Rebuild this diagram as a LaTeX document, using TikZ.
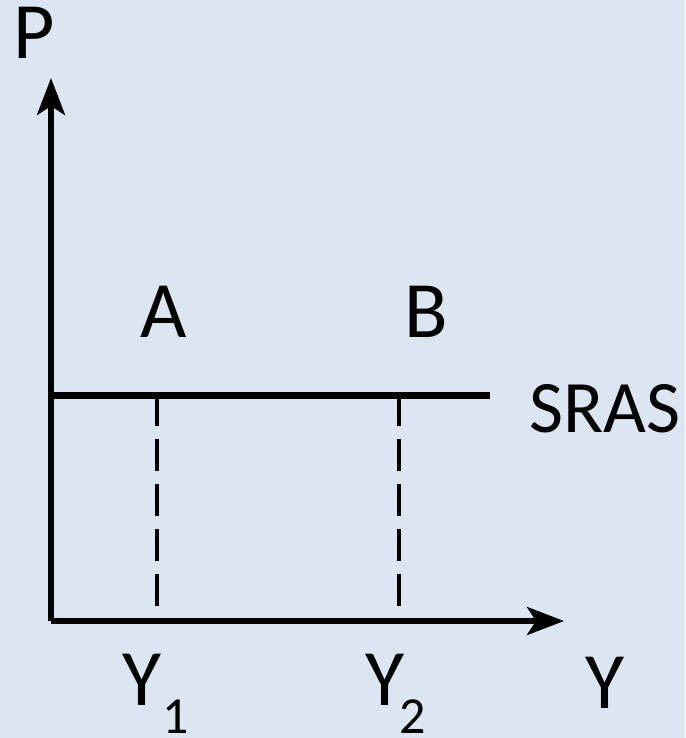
\documentclass[tikz,border=0pt]{standalone}
\usepackage{fontspec}
\setmainfont{Carlito}
\usetikzlibrary{arrows.meta}
\definecolor{bgblue}{RGB}{220,230,242}
\tikzset{
  axis/.style={line width=5.5pt, line join=miter, -{Stealth[length=37pt,width=28pt,inset=9pt]}},
  sras/.style={line width=7pt},
  guide/.style={line width=3.5pt, dash pattern=on 32pt off 13pt},
  big/.style={inner sep=0pt, font=\fontsize{80}{96}\selectfont},
  mid/.style={inner sep=0pt, font=\fontsize{74}{88}\selectfont},
  sub/.style={inner sep=0pt, font=\fontsize{52}{62}\selectfont}
}
\begin{document}
\begin{tikzpicture}[x=1pt,y=-1pt]
\useasboundingbox (0,0) rectangle (685,738);
\fill[bgblue] (0,0) rectangle (685,738);
\coordinate (O) at (51,621);
\coordinate (Ptip) at (51,78);
\coordinate (Ytip) at (564,621);
\coordinate (Sl) at (51,395);
\coordinate (Sr) at (490,395);
\coordinate (A1) at (157,394);
\coordinate (A0) at (157,621);
\coordinate (B1) at (399,394);
\coordinate (B0) at (399,621);
\draw[guide] (A1) -- (A0);
\draw[guide] (B1) -- (B0);
\draw[sras] (Sl) -- (Sr);
\draw[axis] (O) -- (Ptip);
\draw[axis] (O) -- (Ytip);
\node[big, anchor=base] (P) at (34,59) {P};
\node[big, anchor=base] (A) at (164,337) {A};
\node[big, anchor=base] (B) at (426,337) {B};
\node[mid, anchor=base west] (S) at (529,432) {SRAS};
\node[big, anchor=base] (Y) at (605,708) {Y};
\node[big, anchor=base] (Y1) at (142,705) {Y};
\node[sub, anchor=base] (s1) at (176,733) {1};
\node[big, anchor=base] (Y2) at (385,705) {Y};
\node[sub, anchor=base] (s2) at (413,733) {2};
\end{tikzpicture}
\end{document}
